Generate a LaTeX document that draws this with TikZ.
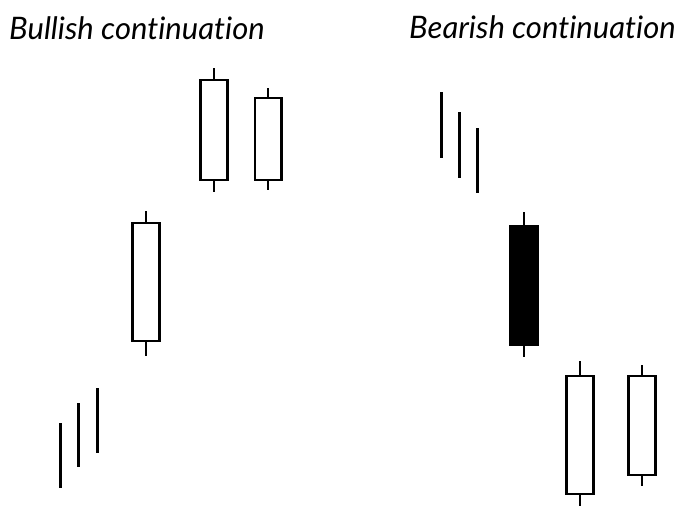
\documentclass[tikz,border=0pt]{standalone}
\usepackage{fontspec}
\setsansfont[Ligatures=NoCommon]{Lato}
\tikzset{
  title/.style={font=\sffamily\itshape\fontsize{31}{31}\selectfont,inner sep=0pt,anchor=base west},
  body/.style={draw=black,line width=2.6pt,fill=white},
  wick/.style={line width=2.6pt},
  bar/.style={line width=3pt}
}
\begin{document}
\begin{tikzpicture}[x=1pt,y=-1pt]
	\useasboundingbox (0,0) rectangle (688,506);
	\node[title] (bull) at (9,39) {Bullish continuation};
	\node[title] (bear) at (409,38) {Bearish continuation};
	% bullish side
	\draw[bar] (60,423)--(60,488);
	\draw[bar] (78,403)--(78,467);
	\draw[bar] (97,388)--(97,453);
	\draw[wick] (146,211)--(146,356);
	\draw[body] (132.5,223) rectangle (159.5,341);
	\draw[wick] (214,68)--(214,192);
	\draw[body] (200.5,80) rectangle (227.5,180);
	\draw[wick] (268,88)--(268,190);
	\draw[body] (255,98) rectangle (281.5,180);
	% bearish side
	\draw[bar] (441,92)--(441,158);
	\draw[bar] (459,112)--(459,178);
	\draw[bar] (477,128)--(477,193);
	\draw[wick] (524,212)--(524,357);
	\draw[body,fill=black] (510.5,226) rectangle (537.5,345);
	\draw[wick] (580,361)--(580,506);
	\draw[body] (566.5,376) rectangle (593.5,494);
	\draw[wick] (642,365)--(642,486);
	\draw[body] (628.5,376) rectangle (655.5,475);
\end{tikzpicture}
\end{document}
